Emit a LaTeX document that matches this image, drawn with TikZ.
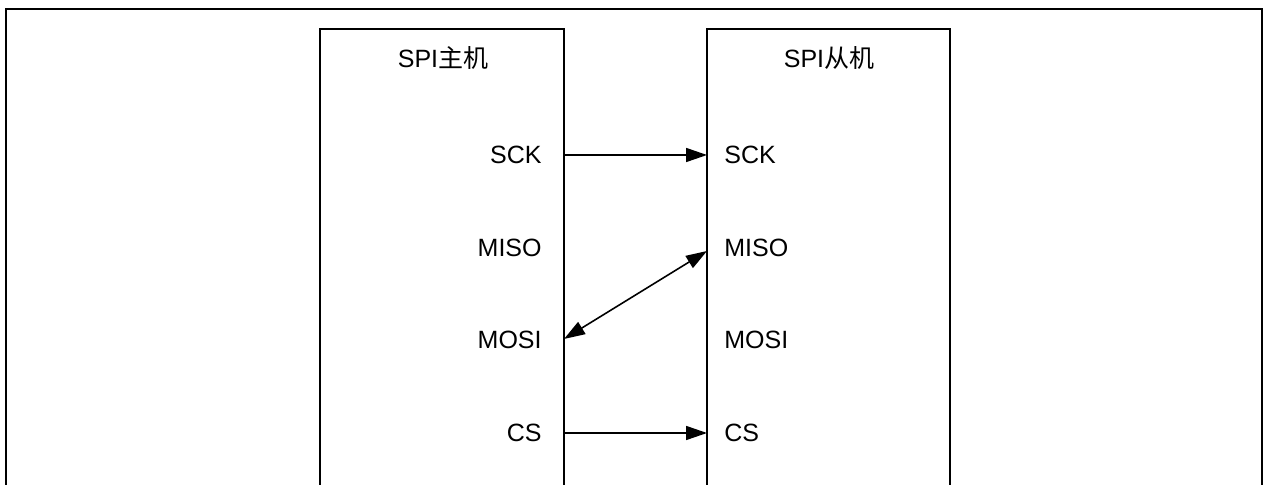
\documentclass[tikz,border=0pt]{standalone}
\usepackage{fontspec}
\setmainfont{Liberation Sans}
\newfontfamily\cjk{Noto Sans CJK SC}
\usetikzlibrary{arrows.meta}
\begin{document}
\begin{tikzpicture}[x=0.5pt,y=-0.5pt,
  every node/.style={font=\fontsize{12.5}{14}\selectfont,inner sep=0pt},
  sig/.style={line width=0.8pt,-{Triangle[length=10.5pt,width=7pt]}},
  dev/.style={line width=0.8pt}]
\useasboundingbox (0,0) rectangle (1268,485);
\clip (0,0) rectangle (1268,485);
% frame and the two devices
\draw[line width=1.1pt] (6,530) -- (6,9) -- (1262,9) -- (1262,530);
\draw[dev] (320,530) -- (320,29) -- (564,29) -- (564,530);
\draw[dev] (707,530) -- (707,29) -- (950,29) -- (950,530);
\node (mtitle) at (443,58) {SPI{\cjk 主机}};
\node (stitle) at (829,58) {SPI{\cjk 从机}};
% master pins
\node[anchor=east] (msck) at (542,155) {SCK};
\node[anchor=east] (mmiso) at (542,248) {MISO};
\node[anchor=east] (mmosi) at (542,340) {MOSI};
\node[anchor=east] (mcs) at (542,433) {CS};
% slave pins
\node[anchor=west] (ssck) at (724,155) {SCK};
\node[anchor=west] (smiso) at (724,248) {MISO};
\node[anchor=west] (smosi) at (724,340) {MOSI};
\node[anchor=west] (scs) at (724,433) {CS};
% pin ends on the box edges
\coordinate (msck-e) at (564,155);
\coordinate (mmosi-e) at (564,339);
\coordinate (mcs-e) at (564,433);
\coordinate (ssck-e) at (707,155);
\coordinate (smiso-e) at (707,251);
\coordinate (scs-e) at (707,433);
\draw[sig] (msck-e) -- (ssck-e);
\draw[sig,{Triangle[length=10.5pt,width=7pt]}-{Triangle[length=10.5pt,width=7pt]}] (mmosi-e) -- (smiso-e);
\draw[sig] (mcs-e) -- (scs-e);
\end{tikzpicture}
\end{document}
